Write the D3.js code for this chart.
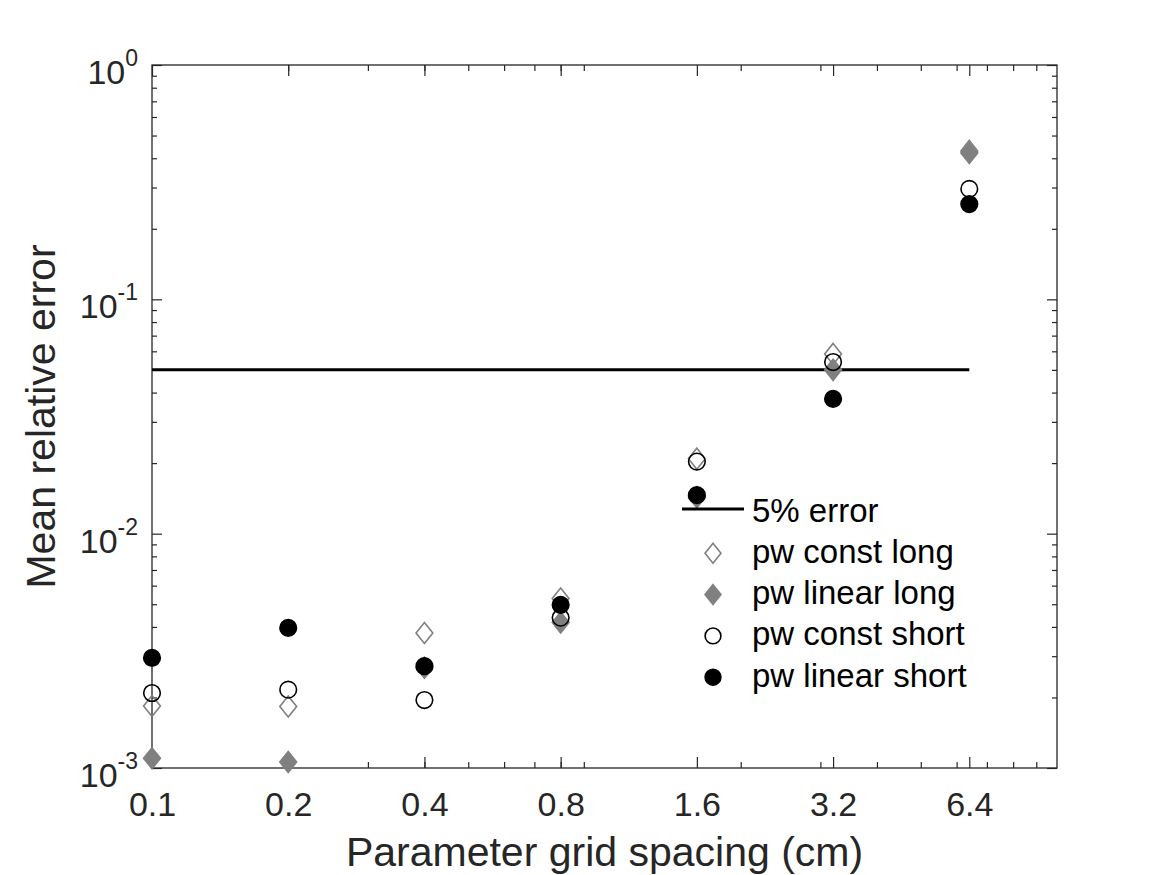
<!DOCTYPE html>
<html>
<head>
<meta charset="utf-8">
<script src="https://cdn.jsdelivr.net/npm/d3@7"></script>
<style>
  body { margin: 0; background: #fff; }
  text { font-family: "Liberation Sans", Arial, Helvetica, sans-serif; fill: #262626; }
</style>
</head>
<body>
<div id="chart"></div>
<script>
var w = 1167; // Define width
var h = 875;  // Define height

// Data
var spacing = [0.1, 0.2, 0.4, 0.8, 1.6, 3.2, 6.4];
var pwConstLong   = [0.00184, 0.00183, 0.00377, 0.00529, 0.0209, 0.0585, 0.43];
var pwLinearLong  = [0.00110, 0.00106, 0.00268, 0.00418, 0.0143, 0.0500, 0.421];
var pwConstShort  = [0.00209, 0.00216, 0.00195, 0.00438, 0.0203, 0.0540, 0.296];
var pwLinearShort = [0.00295, 0.00396, 0.00272, 0.00497, 0.0146, 0.0376, 0.255];
var errorLevel = 0.05;

var xTicks = [0.1, 0.2, 0.4, 0.8, 1.6, 3.2, 6.4];
var xTickLabels = ["0.1", "0.2", "0.4", "0.8", "1.6", "3.2", "6.4"];
var yTicks = [0.001, 0.01, 0.1, 1];
var yTickExponents = ["-3", "-2", "-1", "0"];
var legendLabels = ["5% error", "pw const long", "pw linear long", "pw const short", "pw linear short"];

// plot box edges
var pLeft = 152, pRight = 1057, pTop = 65, pBottom = 768;
var gray = "#808080";

var xScale = d3.scaleLog().domain([0.1, 10]).range([pLeft, pRight]);
var yScale = d3.scaleLog().domain([0.001, 1]).range([pBottom, pTop]);

// minor ticks at 2..9 of each decade
var xMinor = [], yMinor = [];
[0.1, 1].forEach(function(d) { for (var k = 2; k <= 9; k++) xMinor.push(d * k); });
[0.001, 0.01, 0.1].forEach(function(d) { for (var k = 2; k <= 9; k++) yMinor.push(d * k); });

var svg = d3.select("#chart")
    .append("svg")
    .attr("width", w)
    .attr("height", h);

function tickAxis(axis, transform) {
    var g = svg.append("g").attr("transform", transform).call(axis);
    g.select(".domain").remove();
    g.selectAll("line").attr("stroke", "#262626").attr("stroke-width", 1.2);
    return g;
}

// Minor and major ticks, pointing inward, on all four sides
tickAxis(d3.axisBottom(xScale).tickValues(xMinor).tickSize(-6).tickFormat(""), "translate(0," + pBottom + ")");
tickAxis(d3.axisTop(xScale).tickValues(xMinor).tickSize(-6).tickFormat(""), "translate(0," + pTop + ")");
tickAxis(d3.axisLeft(yScale).tickValues(yMinor).tickSize(-5).tickFormat(""), "translate(" + pLeft + ",0)");
tickAxis(d3.axisRight(yScale).tickValues(yMinor).tickSize(-5).tickFormat(""), "translate(" + pRight + ",0)");
tickAxis(d3.axisTop(xScale).tickValues(xTicks).tickSize(-11).tickFormat(""), "translate(0," + pTop + ")");
tickAxis(d3.axisRight(yScale).tickValues(yTicks).tickSize(-10).tickFormat(""), "translate(" + pRight + ",0)");
tickAxis(d3.axisLeft(yScale).tickValues(yTicks).tickSize(-10).tickFormat(""), "translate(" + pLeft + ",0)");

var xAxis = tickAxis(d3.axisBottom(xScale).tickValues(xTicks).tickSize(-11)
    .tickFormat(function(d, i) { return xTickLabels[i]; }), "translate(0," + pBottom + ")");
xAxis.selectAll("text")
    .attr("y", 48).attr("dy", null)
    .style("font-size", "34px")
    .attr("fill", "#262626");

// Y tick labels as 10 with superscript exponent
yTicks.forEach(function(v, i) {
    var t = svg.append("text")
        .attr("x", 138)
        .attr("y", yScale(v) + 19)
        .attr("text-anchor", "end")
        .style("font-size", "34px");
    t.append("tspan").text("10");
    t.append("tspan").attr("dy", -18).style("font-size", "23px").text(yTickExponents[i]);
});

// Axes box
svg.append("rect")
    .attr("x", pLeft).attr("y", pTop)
    .attr("width", pRight - pLeft).attr("height", pBottom - pTop)
    .attr("fill", "none").attr("stroke", "#262626").attr("stroke-width", 1.3);

// Axis titles
svg.append("text")
    .attr("x", (pLeft + pRight) / 2).attr("y", 866)
    .attr("text-anchor", "middle")
    .style("font-size", "41px")
    .text("Parameter grid spacing (cm)");

svg.append("text")
    .attr("transform", "translate(55," + ((pTop + pBottom) / 2) + ") rotate(-90)")
    .attr("text-anchor", "middle")
    .style("font-size", "41px")
    .text("Mean relative error");

// 5% error line
svg.append("line")
    .attr("x1", xScale(spacing[0])).attr("x2", xScale(spacing[spacing.length - 1]))
    .attr("y1", yScale(errorLevel)).attr("y2", yScale(errorLevel))
    .attr("stroke", "#000").attr("stroke-width", 3);

var diamond = function(hw, hh) {
    return "M0," + (-hh) + "L" + hw + ",0L0," + hh + "L" + (-hw) + ",0Z";
};

var series = [
    { values: pwConstLong,   shape: "diamond", fill: "none", stroke: gray },
    { values: pwLinearLong,  shape: "diamond", fill: gray,   stroke: gray },
    { values: pwConstShort,  shape: "circle",  fill: "none", stroke: "#000" },
    { values: pwLinearShort, shape: "circle",  fill: "#000", stroke: "#000" }
];

function drawMarker(g, s, scale) {
    if (s.shape === "diamond") {
        g.append("path").attr("d", diamond(8.4 * scale, 10.5 * scale));
    } else {
        g.append("circle").attr("r", 8.3 * scale);
    }
    g.selectAll("path, circle")
        .attr("fill", s.fill)
        .attr("stroke", s.stroke)
        .attr("stroke-width", 1.6);
}

series.forEach(function(s) {
    svg.append("g").selectAll("g")
        .data(s.values)
        .enter()
        .append("g")
        .attr("transform", function(d, i) { return "translate(" + xScale(spacing[i]) + "," + yScale(d) + ")"; })
        .each(function() { drawMarker(d3.select(this), s, 1); });
});

// Legend
var legend = svg.append("g").attr("transform", "translate(682,521.5)");
legendLabels.forEach(function(label, i) {
    var row = legend.append("g").attr("transform", "translate(0," + (i * 41.3) + ")");
    if (i === 0) {
        row.append("line")
            .attr("x1", 0).attr("x2", 62)
            .attr("y1", -12.5).attr("y2", -12.5)
            .attr("stroke", "#000").attr("stroke-width", 3);
    } else {
        var m = row.append("g").attr("transform", "translate(31,-9.5)");
        drawMarker(m, series[i - 1], 0.95);
    }
    row.append("text")
        .attr("x", 70).attr("y", 0)
        .style("font-size", "33px")
        .style("fill", "#000")
        .text(label);
});
</script>
</body>
</html>
